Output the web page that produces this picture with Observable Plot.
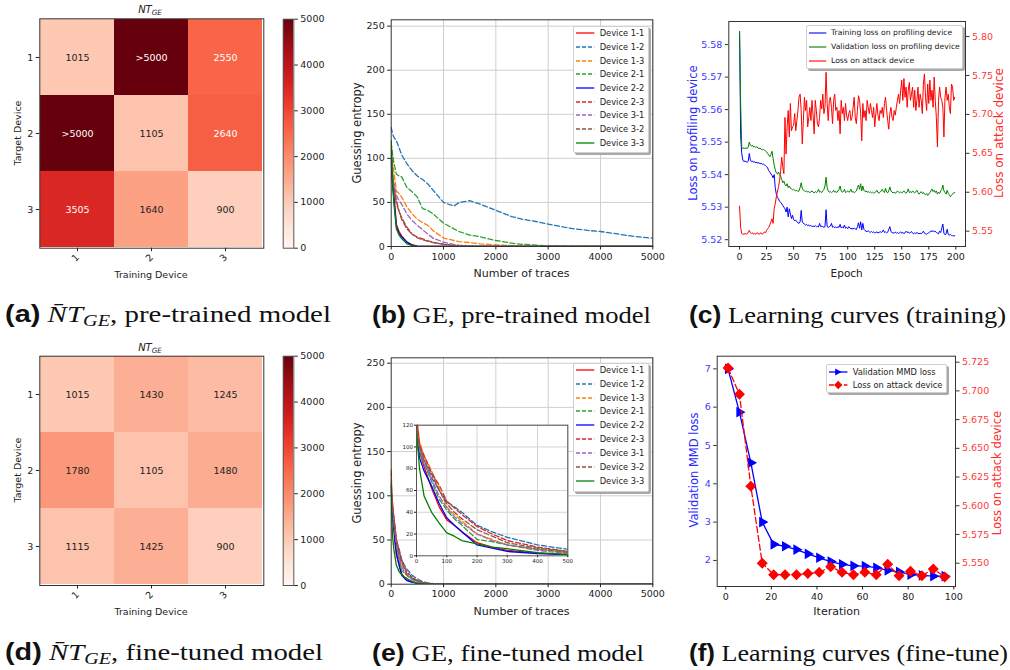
<!DOCTYPE html>
<html><head><meta charset="utf-8">
<script src="https://cdn.jsdelivr.net/npm/d3@7"></script>
<script src="https://cdn.jsdelivr.net/npm/@observablehq/plot@0.6"></script>
<style>
html,body{margin:0;padding:0;background:#fff;}
#fig{position:relative;width:1010px;height:670px;overflow:hidden;font-family:"DejaVu Sans",sans-serif;color:#222;}
.lbl{position:absolute;white-space:nowrap;transform:translate(-50%,-50%);line-height:1;}
.vlbl{position:absolute;white-space:nowrap;transform:translate(-50%,-50%) rotate(-90deg);line-height:1;}
.legend{position:absolute;background:#fff;border:1px solid #cfcfcf;border-radius:2px;box-shadow:2px 2px 0 #a8a8a8;box-sizing:border-box;}
.cap{position:absolute;white-space:nowrap;font-family:"Liberation Serif",serif;font-size:23px;transform-origin:left center;line-height:1.2;color:#111;}
.cap b{font-family:"Liberation Sans",sans-serif;font-weight:bold;}
.cap sub{font-size:0.7em;vertical-align:-0.25em;}
</style></head><body><div id="fig"></div>
<script>
// ---------------- DATA ----------------
const trainingDevices = ["1", "2", "3"];
const targetDevices = ["1", "2", "3"];
// rows = target device, columns = training device
const ntPretrained = [["1015", ">5000", "2550"], [">5000", "1105", "2640"], ["3505", "1640", "900"]];
const ntFinetuned = [["1015", "1430", "1245"], ["1780", "1105", "1480"], ["1115", "1425", "900"]];
const ntMax = 5000;
const colorbarTicks = [0, 1000, 2000, 3000, 4000, 5000];

const deviceNames = ["Device 1-1", "Device 1-2", "Device 1-3", "Device 2-1", "Device 2-2", "Device 2-3", "Device 3-1", "Device 3-2", "Device 3-3"];

// (b) GE, pre-trained model
const tracesBefore = [0, 25, 50, 100, 150, 200, 300, 400, 500, 600, 700, 800, 1000, 1200, 1300, 1500, 1700, 2000, 2300, 2500, 2800, 3000, 3300, 3500, 3800, 4000, 4300, 4500, 4800, 5000];
const geBefore = [
  [100, 75, 60, 25, 17, 12, 5, 2, 0.5, 0, 0, 0, 0, 0, 0, 0, 0, 0, 0, 0, 0, 0, 0, 0, 0, 0, 0, 0, 0, 0],
  [135, 128, 124, 120, 112, 104, 94, 86, 80, 76, 71, 64, 50, 46, 50, 52, 48, 41, 34, 31, 28, 25.5, 22, 20, 18, 17, 14.5, 12.5, 10.5, 9.5],
  [115, 95, 85, 63, 60, 56, 45, 37, 31, 27, 24, 18, 9.5, 6.8, 5.5, 4.5, 3, 1.9, 1, 0.4, 0, 0, 0, 0, 0, 0, 0, 0, 0, 0],
  [118, 105, 95, 82, 80, 79, 67, 62, 56, 43, 41, 37, 26.5, 20, 17, 13, 11, 6.8, 3.8, 2.5, 1.5, 0.8, 0.4, 0, 0, 0, 0, 0, 0, 0],
  [95, 70, 55, 22, 15, 11, 5, 1.5, 0, 0, 0, 0, 0, 0, 0, 0, 0, 0, 0, 0, 0, 0, 0, 0, 0, 0, 0, 0, 0, 0],
  [110, 82, 68, 52, 40, 31, 20, 14, 10.6, 8.7, 6.5, 4.9, 2.6, 1.1, 0.7, 0.3, 0, 0, 0, 0, 0, 0, 0, 0, 0, 0, 0, 0, 0, 0],
  [100, 85, 72, 58, 52, 48, 37, 29.5, 24, 19, 14, 9.5, 4.9, 2.3, 1.5, 0.8, 0.4, 0, 0, 0, 0, 0, 0, 0, 0, 0, 0, 0, 0, 0],
  [105, 80, 65, 48, 40, 33, 22, 14, 9.8, 7.6, 6, 4.5, 2.3, 1.2, 0.8, 0.4, 0, 0, 0, 0, 0, 0, 0, 0, 0, 0, 0, 0, 0, 0],
  [120, 75, 50, 20, 13, 9, 3, 1, 0, 0, 0, 0, 0, 0, 0, 0, 0, 0, 0, 0, 0, 0, 0, 0, 0, 0, 0, 0, 0, 0]
];

// (e) GE, fine-tuned model
const tracesAfter = [0, 10, 25, 50, 75, 100, 125, 150, 200, 250, 300, 400, 500, 600, 700, 800, 1000, 5000];
const geAfter = [
  [112, 95, 82, 62, 45, 33, 28, 22, 12, 8, 5, 2.5, 1, 0.5, 0.2, 0, 0, 0],
  [125, 100, 88, 72, 60, 50, 45, 40, 28, 22, 17, 10, 6, 3, 1.5, 0.8, 0, 0],
  [130, 105, 92, 78, 62, 45, 38, 32, 20, 15, 10, 6, 3, 1.5, 0.8, 0.3, 0, 0],
  [110, 95, 85, 68, 52, 42, 34, 28, 15, 13, 10, 6, 3, 1.5, 0.8, 0.3, 0, 0],
  [110, 90, 78, 64, 48, 35, 28, 22, 10, 7, 4, 2, 1, 0.5, 0.2, 0, 0, 0],
  [128, 102, 92, 76, 65, 50, 44, 38, 27, 20, 14, 8, 4, 2, 1, 0.5, 0, 0],
  [112, 97, 85, 70, 55, 44, 36, 30, 20, 14, 10, 5, 2, 1, 0.5, 0.2, 0, 0],
  [115, 100, 88, 75, 60, 48, 40, 34, 24, 18, 12, 7, 4, 2, 1, 0.5, 0, 0],
  [115, 80, 55, 40, 30, 21, 18, 14, 11, 8, 6.5, 3, 1, 0.5, 0.2, 0, 0, 0]
];
const geXTicks = [0, 1000, 2000, 3000, 4000, 5000];
const geYTicks = [0, 50, 100, 150, 200, 250];
const insetXTicks = [0, 100, 200, 300, 400, 500];
const insetYTicks = [0, 20, 40, 60, 80, 100, 120];

// (c) learning curves (training), epochs 0..199
const trainLoss = [5.584,5.552,5.5465,5.5445,5.544,5.5442,5.544,5.5438,5.5441,5.5465,
 5.5445,5.544,5.5442,5.5438,5.544,5.5436,5.5438,5.5435,5.5437,5.5433,
 5.5435,5.5432,5.5433,5.543,5.5428,5.5425,5.542,5.5412,5.5408,5.5402,
 5.5398,5.539,5.54,5.536,5.534,5.533,5.5325,5.5318,5.5315,5.531,
 5.5305,5.53,5.5295,5.5285,5.53,5.527,5.5295,5.528,5.5265,5.5275,
 5.5262,5.5258,5.526,5.5255,5.5252,5.525,5.5255,5.529,5.5255,5.525,
 5.5248,5.5245,5.5247,5.5243,5.5245,5.5242,5.5244,5.524,5.5242,5.524,
 5.5243,5.524,5.5241,5.5239,5.525,5.524,5.5242,5.524,5.5238,5.524,
 5.5292,5.524,5.5238,5.524,5.5242,5.525,5.5238,5.524,5.5237,5.5239,
 5.5236,5.524,5.5238,5.5247,5.5236,5.5239,5.5236,5.5245,5.5235,5.5238,
 5.5234,5.524,5.5236,5.5233,5.5235,5.5232,5.5236,5.5233,5.5231,5.524,
 5.5252,5.5235,5.5255,5.523,5.525,5.5232,5.5228,5.5226,5.5225,5.5227,
 5.5224,5.5223,5.5225,5.5222,5.5224,5.5221,5.5222,5.5224,5.5221,5.5222,
 5.5225,5.5222,5.5224,5.523,5.5222,5.5224,5.5221,5.5223,5.5232,5.524,
 5.5225,5.5222,5.522,5.5221,5.5223,5.522,5.5222,5.5219,5.5221,5.5224,
 5.522,5.5222,5.5219,5.5221,5.5226,5.5222,5.5224,5.522,5.5222,5.5225,
 5.522,5.5218,5.5221,5.5219,5.5222,5.522,5.5218,5.522,5.5218,5.5221,
 5.5226,5.522,5.5218,5.5217,5.5219,5.5221,5.5224,5.5227,5.5225,5.5228,
 5.5224,5.5226,5.5222,5.522,5.5218,5.5226,5.5222,5.5235,5.5248,5.522,
 5.5215,5.5218,5.5232,5.5216,5.5214,5.5216,5.5213,5.5212,5.5212,5.5212];
const valLoss = [5.584,5.562,5.5485,5.548,5.5482,5.548,5.5483,5.548,5.5485,5.55,
 5.549,5.5488,5.549,5.5485,5.5487,5.5483,5.5486,5.5482,5.548,5.5482,
 5.5478,5.5476,5.5478,5.5475,5.5473,5.547,5.5465,5.546,5.5455,5.5462,
 5.5472,5.545,5.543,5.5415,5.5405,5.5402,5.5408,5.54,5.5395,5.5385,
 5.5375,5.538,5.537,5.5365,5.5372,5.536,5.5365,5.5358,5.5356,5.5353,
 5.5355,5.5352,5.535,5.5352,5.5348,5.535,5.536,5.5375,5.5358,5.5352,
 5.535,5.5348,5.535,5.5346,5.5348,5.5345,5.5347,5.535,5.5346,5.5344,
 5.5348,5.5345,5.5347,5.5355,5.5346,5.5348,5.5345,5.535,5.5355,5.5365,
 5.5392,5.536,5.535,5.5346,5.5348,5.5345,5.5347,5.5352,5.5346,5.5348,
 5.5345,5.535,5.5355,5.5365,5.535,5.5346,5.5348,5.5355,5.5345,5.5347,
 5.535,5.5346,5.5348,5.5355,5.5346,5.5348,5.5345,5.5347,5.535,5.536,
 5.5368,5.5355,5.5372,5.535,5.5365,5.5352,5.5348,5.535,5.5346,5.5348,
 5.5345,5.5347,5.5344,5.5346,5.5343,5.5345,5.5347,5.5352,5.5345,5.5343,
 5.5346,5.535,5.5355,5.5348,5.5345,5.5358,5.5346,5.5344,5.535,5.5362,
 5.535,5.5346,5.5344,5.5346,5.5343,5.5345,5.535,5.5346,5.5344,5.5347,
 5.5344,5.5346,5.535,5.5345,5.5343,5.5347,5.5356,5.5345,5.5348,5.5344,
 5.535,5.5346,5.5344,5.5347,5.5352,5.5345,5.534,5.5344,5.5348,5.5342,
 5.5345,5.534,5.5338,5.5342,5.5336,5.534,5.5345,5.535,5.5356,5.5348,
 5.5352,5.5345,5.535,5.534,5.5346,5.5342,5.535,5.5355,5.5368,5.535,
 5.5345,5.534,5.5352,5.5342,5.5338,5.5332,5.5336,5.534,5.5344,5.5345];
const attackLoss = [5.582,5.555,5.547,5.546,5.546,5.547,5.546,5.547,5.548,5.551,
 5.548,5.547,5.548,5.546,5.547,5.546,5.548,5.547,5.546,5.547,
 5.548,5.546,5.547,5.549,5.548,5.551,5.553,5.555,5.558,5.562,
 5.566,5.560,5.579,5.585,5.594,5.600,5.607,5.615,5.628,5.645,
 5.632,5.624,5.696,5.649,5.684,5.705,5.671,5.714,5.679,5.684,
 5.686,5.701,5.679,5.692,5.705,5.722,5.726,5.705,5.662,5.692,
 5.722,5.705,5.718,5.684,5.696,5.709,5.692,5.718,5.699,5.675,
 5.718,5.705,5.688,5.684,5.696,5.718,5.707,5.726,5.701,5.709,
 5.754,5.714,5.692,5.718,5.722,5.709,5.688,5.718,5.726,5.705,
 5.709,5.692,5.705,5.675,5.718,5.701,5.709,5.692,5.714,5.699,
 5.692,5.701,5.705,5.692,5.696,5.709,5.722,5.696,5.688,5.705,
 5.724,5.718,5.701,5.666,5.714,5.696,5.705,5.692,5.718,5.709,
 5.701,5.714,5.705,5.696,5.709,5.684,5.701,5.714,5.699,5.692,
 5.705,5.701,5.709,5.696,5.714,5.722,5.705,5.692,5.681,5.701,
 5.709,5.696,5.692,5.705,5.699,5.709,5.718,5.726,5.714,5.731,
 5.744,5.718,5.746,5.722,5.735,5.709,5.731,5.741,5.718,5.726,
 5.735,5.709,5.731,5.705,5.718,5.735,5.709,5.726,5.718,5.701,
 5.739,5.752,5.722,5.705,5.739,5.714,5.744,5.718,5.731,5.709,
 5.748,5.718,5.696,5.658,5.718,5.735,5.722,5.718,5.709,5.671,
 5.722,5.735,5.718,5.726,5.709,5.701,5.739,5.735,5.718,5.722];
const epochTicks = [0, 25, 50, 75, 100, 125, 150, 175, 200];
const profLossTicks = [5.52, 5.53, 5.54, 5.55, 5.56, 5.57, 5.58];
const attackLossTicks = [5.55, 5.60, 5.65, 5.70, 5.75, 5.80];

// (f) learning curves (fine-tune)
const iterations = [1, 6, 11, 16, 21, 26, 31, 36, 41, 46, 51, 56, 61, 66, 71, 76, 81, 86, 91, 96];
const mmdLoss = [7.0, 5.87, 4.55, 3.0, 2.42, 2.37, 2.28, 2.17, 2.07, 1.97, 1.90, 1.86, 1.85, 1.81, 1.74, 1.70, 1.63, 1.61, 1.59, 1.59];
const attackLossFT = [5.720, 5.697, 5.617, 5.550, 5.540, 5.540, 5.540, 5.541, 5.542, 5.547, 5.542, 5.540, 5.542, 5.540, 5.549, 5.539, 5.543, 5.539, 5.545, 5.538];
const iterTicks = [0, 20, 40, 60, 80, 100];
const mmdTicks = [2, 3, 4, 5, 6, 7];
const attackFTTicks = [5.550, 5.575, 5.600, 5.625, 5.650, 5.675, 5.700, 5.725];

// ---------------- STYLES ----------------
const deviceColors = ["#ff0000", "#1f77b4", "#ff7f0e", "#2ca02c", "#0000ff", "#d62728", "#9467bd", "#8c564b", "#008000"];
const deviceDashed = [false, true, true, true, false, true, true, true, false];
const BLUE = "#0000ff", GREEN = "#008000", RED = "#ff0000";
const TXT = "#222";
const baseStyle = {fontFamily: "DejaVu Sans, sans-serif", fontSize: "9.5px", color: TXT, background: "transparent", overflow: "visible"};

const fig = document.getElementById("fig");
function put(el, left, top) {
  el.style.position = "absolute"; el.style.left = left + "px"; el.style.top = top + "px";
  fig.appendChild(el); return el;
}
function label(html, x, y, o = {}) {
  const d = document.createElement("div");
  d.className = o.vertical ? "vlbl" : "lbl";
  d.innerHTML = html;
  d.style.left = x + "px"; d.style.top = y + "px";
  d.style.fontSize = (o.size || 10) + "px";
  d.style.color = o.color || TXT;
  if (o.italic) d.style.fontStyle = "italic";
  fig.appendChild(d);
}
// frame: [x0, y0, x1, y1] in page px; svg box: [left, top, width, height]
function margins(box, frame) {
  return {width: box[2], height: box[3], marginLeft: frame[0] - box[0], marginTop: frame[1] - box[1],
          marginRight: box[0] + box[2] - frame[2], marginBottom: box[1] + box[3] - frame[3]};
}
const colorScale = {type: "linear", domain: [0, ntMax], scheme: "reds"};

// ---------------- HEATMAPS ----------------
function heatmap(labels, box, frame, cbBox, cbFrame) {
  const cells = [];
  targetDevices.forEach((t, i) => trainingDevices.forEach((tr, j) => {
    const s = labels[i][j];
    cells.push({target: t, train: tr, value: s.startsWith(">") ? ntMax : +s, text: s});
  }));
  const p = Plot.plot({
    ...margins(box, frame), style: baseStyle,
    x: {domain: trainingDevices, padding: 0, label: null},
    y: {domain: targetDevices, padding: 0, label: null},
    color: colorScale,
    marks: [
      Plot.cell(cells, {x: "train", y: "target", fill: "value", inset: 0, shapeRendering: "crispEdges"}),
      Plot.text(cells, {x: "train", y: "target", text: "text", fill: d => d.value > 2500 ? "white" : TXT, fontSize: 9.5}),
      Plot.frame({stroke: "#333"}),
      Plot.axisX({tickRotate: -45, tickSize: 3.5, tickPadding: 4, label: null}),
      Plot.axisY({tickSize: 3.5, tickPadding: 3, label: null})
    ]
  });
  put(p, box[0], box[1]);
  const steps = d3.range(0, ntMax, 20);
  const cb = Plot.plot({
    ...margins(cbBox, cbFrame), style: baseStyle,
    x: {domain: [0, 1], axis: null},
    y: {domain: [0, ntMax]},
    color: colorScale,
    marks: [
      Plot.rect(steps, {x1: 0, x2: 1, y1: d => d, y2: d => d + 20, fill: d => d + 10, inset: 0, shapeRendering: "crispEdges"}),
      Plot.frame({stroke: "#555"}),
      Plot.axisY(colorbarTicks, {anchor: "right", tickSize: 3.5, tickPadding: 3, tickFormat: d => String(d), label: null})
    ]
  });
  put(cb, cbBox[0], cbBox[1]);
}
heatmap(ntPretrained, [0, 0, 270, 290], [39.3, 18.3, 263.3, 247.7], [270, 0, 60, 290], [282.7, 18.7, 293.3, 247.7]);
heatmap(ntFinetuned, [0, 338, 270, 290], [39.3, 355.7, 263.3, 585], [270, 338, 60, 290], [282.7, 355.7, 293.3, 585]);
label("<i>NT</i><sub style='font-size:0.72em;font-style:italic;vertical-align:-0.3em'>GE</sub>", 150, 11, {size: 10});
label("<i>NT</i><sub style='font-size:0.72em;font-style:italic;vertical-align:-0.3em'>GE</sub>", 150, 349, {size: 10});
label("Target Device", 18, 133, {vertical: true, size: 9.5});
label("Training Device", 151, 274.5, {size: 9.5});
label("Target Device", 18, 470, {vertical: true, size: 9.5});
label("Training Device", 151, 611.5, {size: 9.5});

// ---------------- GE CHARTS ----------------
function geLines(traces, series) {
  return series.map((vals, k) => Plot.line(vals, {
    x: (d, i) => traces[i], y: d => d, stroke: deviceColors[k], strokeWidth: 1.3,
    ...(deviceDashed[k] ? {strokeDasharray: "5,2.5"} : {}), clip: true
  }));
}
function geChart(traces, series, box, frame, yTop) {
  const p = Plot.plot({
    ...margins(box, frame), style: baseStyle,
    x: {domain: [0, 5000]}, y: {domain: [0, yTop]},
    marks: [
      Plot.gridX(geXTicks.slice(1), {stroke: "#cfcfcf", strokeOpacity: 1}),
      Plot.gridY(geYTicks.slice(1), {stroke: "#cfcfcf", strokeOpacity: 1}),
      ...geLines(traces, series),
      Plot.frame({stroke: "#333"}),
      Plot.axisX(geXTicks, {tickSize: 3.5, tickPadding: 3, tickFormat: d => String(d), label: null}),
      Plot.axisY(geYTicks, {tickSize: 3.5, tickPadding: 3, label: null})
    ]
  });
  put(p, box[0], box[1]);
}
geChart(tracesBefore, geBefore, [340, 0, 320, 300], [390.7, 19.3, 652.3, 246], 257.2);
geChart(tracesAfter, geAfter, [340, 340, 320, 300], [390.7, 357.3, 652.3, 583.7], 256.1);
// inset of (e)
{
  const box = [400, 415, 175, 155], frame = [416, 424.7, 567.3, 555.3];
  const p = Plot.plot({
    ...margins(box, frame), style: {...baseStyle, fontSize: "5.5px"},
    x: {domain: [0, 500]}, y: {domain: [0, 120]},
    marks: [
      Plot.frame({fill: "white", stroke: null}),
      Plot.gridX(insetXTicks.slice(1), {stroke: "#d4d4d4", strokeOpacity: 1}),
      Plot.gridY(insetYTicks.slice(1), {stroke: "#d4d4d4", strokeOpacity: 1}),
      ...geLines(tracesAfter, geAfter),
      Plot.frame({stroke: "#555"}),
      Plot.axisX(insetXTicks, {tickSize: 2, tickPadding: 1.5, label: null}),
      Plot.axisY(insetYTicks, {tickSize: 2, tickPadding: 1.5, label: null})
    ]
  });
  put(p, box[0], box[1]);
}
label("Guessing entropy", 357.5, 133, {vertical: true, size: 11.5});
label("Number of traces", 521.5, 272.7, {size: 11});
label("Guessing entropy", 357.5, 473, {vertical: true, size: 11.5});
label("Number of traces", 521.5, 610.7, {size: 11});

// ---------------- LEARNING CURVES (training) ----------------
{
  const box = [680, 0, 330, 300], frame = [728.3, 21, 965, 246];
  const xDom = [-9.95, 208.95];
  const left = Plot.plot({
    ...margins(box, frame), style: baseStyle,
    x: {domain: xDom}, y: {domain: [5.5179, 5.5871]},
    marks: [
      Plot.line(trainLoss, {x: (d, i) => i, y: d => d, stroke: BLUE, strokeWidth: 1}),
      Plot.line(valLoss, {x: (d, i) => i, y: d => d, stroke: GREEN, strokeWidth: 1}),
      Plot.frame({stroke: "#333"}),
      Plot.axisX(epochTicks, {tickSize: 3.5, tickPadding: 3, label: null}),
      Plot.axisY(profLossTicks, {tickSize: 3.5, tickPadding: 3, tickFormat: d => d.toFixed(2), fill: "#3a3aff", stroke: "#333", label: null})
    ]
  });
  put(left, box[0], box[1]);
  const right = Plot.plot({
    ...margins(box, frame), style: baseStyle,
    x: {domain: xDom, axis: null}, y: {domain: [5.5303, 5.8193]},
    marks: [
      Plot.line(attackLoss, {x: (d, i) => i, y: d => d, stroke: RED, strokeWidth: 1}),
      Plot.axisY(attackLossTicks, {anchor: "right", tickSize: 3.5, tickPadding: 3, tickFormat: d => d.toFixed(2), fill: "#ff3a3a", stroke: "#333", label: null})
    ]
  });
  put(right, box[0], box[1]);
}
label("Loss on profiling device", 694, 133, {vertical: true, size: 11.5, color: "#2b2bff"});
label("Loss on attack device", 999.3, 133, {vertical: true, size: 12, color: "#ff2b2b"});
label("Epoch", 846.7, 272.7, {size: 10.5});

// ---------------- LEARNING CURVES (fine-tune) ----------------
{
  const box = [680, 340, 330, 300], frame = [716.7, 355.7, 955, 586];
  const xDom = [-3.75, 100.75];
  const rows = iterations.map((it, i) => ({it, mmd: mmdLoss[i], att: attackLossFT[i]}));
  const left = Plot.plot({
    ...margins(box, frame), style: baseStyle,
    x: {domain: xDom}, y: {domain: [1.32, 7.33]},
    marks: [
      Plot.line(rows, {x: "it", y: "mmd", stroke: BLUE, strokeWidth: 1.3}),
      Plot.dot(rows, {x: "it", y: "mmd", symbol: "triangle", rotate: 90, fill: BLUE, stroke: BLUE, r: 3}),
      Plot.frame({stroke: "#333"}),
      Plot.axisX(iterTicks, {tickSize: 3.5, tickPadding: 3, label: null}),
      Plot.axisY(mmdTicks, {tickSize: 3.5, tickPadding: 3, fill: "#3a3aff", stroke: "#333", label: null})
    ]
  });
  put(left, box[0], box[1]);
  const right = Plot.plot({
    ...margins(box, frame), style: baseStyle,
    x: {domain: xDom, axis: null}, y: {domain: [5.5297, 5.7302]},
    marks: [
      Plot.line(rows, {x: "it", y: "att", stroke: RED, strokeWidth: 1.3, strokeDasharray: "6,3"}),
      Plot.dot(rows, {x: "it", y: "att", symbol: "diamond2", fill: RED, stroke: RED, r: 4}),
      Plot.axisY(attackFTTicks, {anchor: "right", tickSize: 3.5, tickPadding: 3, tickFormat: d => d.toFixed(3), fill: "#ff3a3a", stroke: "#333", label: null})
    ]
  });
  put(right, box[0], box[1]);
}
label("Validation MMD loss", 695, 470, {vertical: true, size: 11.5, color: "#2b2bff"});
label("Loss on attack device", 998.3, 473, {vertical: true, size: 11.5, color: "#ff2b2b"});
label("Iteration", 836.7, 611, {size: 11});

// ---------------- LEGENDS ----------------
function legend(items, box, o) {
  const d = document.createElement("div"); d.className = "legend";
  Object.assign(d.style, {left: box[0] + "px", top: box[1] + "px", width: box[2] + "px", height: box[3] + "px"});
  items.forEach((it, k) => {
    const cy = o.first + k * o.step;
    const sw = o.sx1 - o.sx0;
    let svg = `<svg width="${sw + 10}" height="14" style="position:absolute;left:${o.sx0 - 5}px;top:${cy - 7}px;overflow:visible">` +
      `<line x1="5" x2="${sw + 5}" y1="7" y2="7" stroke="${it.color}" stroke-width="${o.lw || 1.3}" ${it.dash ? `stroke-dasharray="${it.dash}"` : ""}/>`;
    const mx = 5 + sw / 2;
    if (it.marker === "tri") svg += `<path d="M${mx - 3},3.5L${mx + 3.4},7L${mx - 3},10.5Z" fill="${it.color}"/>`;
    if (it.marker === "dia") svg += `<path d="M${mx},2.7L${mx + 4.1},7L${mx},11.3L${mx - 4.1},7Z" fill="${it.color}"/>`;
    svg += "</svg>";
    const span = `<span style="position:absolute;left:${o.tx}px;top:${cy - 7}px;line-height:14px;font-size:${o.fs}px;white-space:nowrap;color:${TXT}">${it.label}</span>`;
    d.insertAdjacentHTML("beforeend", svg + span);
  });
  fig.appendChild(d);
}
const geItems = deviceNames.map((n, k) => ({label: n, color: deviceColors[k], dash: deviceDashed[k] ? "4,2" : null}));
legend(geItems, [572.7, 26, 76.6, 126.7], {first: 6.3, step: 13.67, sx0: 2.3, sx1: 20.6, tx: 26, fs: 8.3});
legend(geItems, [572.7, 363.3, 76.6, 128.4], {first: 5.7, step: 13.82, sx0: 2.3, sx1: 20.6, tx: 26, fs: 8.3});
legend([
  {label: "Training loss on profiling device", color: BLUE},
  {label: "Validation loss on profiling device", color: GREEN},
  {label: "Loss on attack device", color: RED}
], [806, 25, 157.3, 44.3], {first: 6.7, step: 14, sx0: 1.7, sx1: 19, tx: 24, fs: 7.7, lw: 1.1});
legend([
  {label: "Validation MMD loss", color: BLUE, marker: "tri"},
  {label: "Loss on attack device", color: RED, dash: "5,2.5", marker: "dia"}
], [825.7, 364, 121, 29.3], {first: 7.3, step: 12.7, sx0: 2.6, sx1: 21, tx: 26, fs: 8.3});

// ---------------- CAPTIONS ----------------
function caption(html, x0, x1, cy) {
  const d = document.createElement("div"); d.className = "cap"; d.innerHTML = html;
  fig.appendChild(d);
  const r = d.getBoundingClientRect();
  d.style.left = x0 + "px"; d.style.top = (cy - r.height / 2) + "px";
  d.style.transform = `scaleX(${(x1 - x0) / r.width})`;
}
const ntMath = "<i>N&#772;T</i><sub><i>GE</i></sub>";
caption(`<b>(a)</b> ${ntMath}, pre-trained model`, 5, 331, 316);
caption(`<b>(b)</b> GE, pre-trained model`, 372, 651, 316);
caption(`<b>(c)</b> Learning curves (training)`, 689, 1006, 316);
caption(`<b>(d)</b> ${ntMath}, fine-tuned model`, 5, 323, 654);
caption(`<b>(e)</b> GE, fine-tuned model`, 372, 644, 654);
caption(`<b>(f)</b> Learning curves (fine-tune)`, 689, 1008, 654);
</script></body></html>
